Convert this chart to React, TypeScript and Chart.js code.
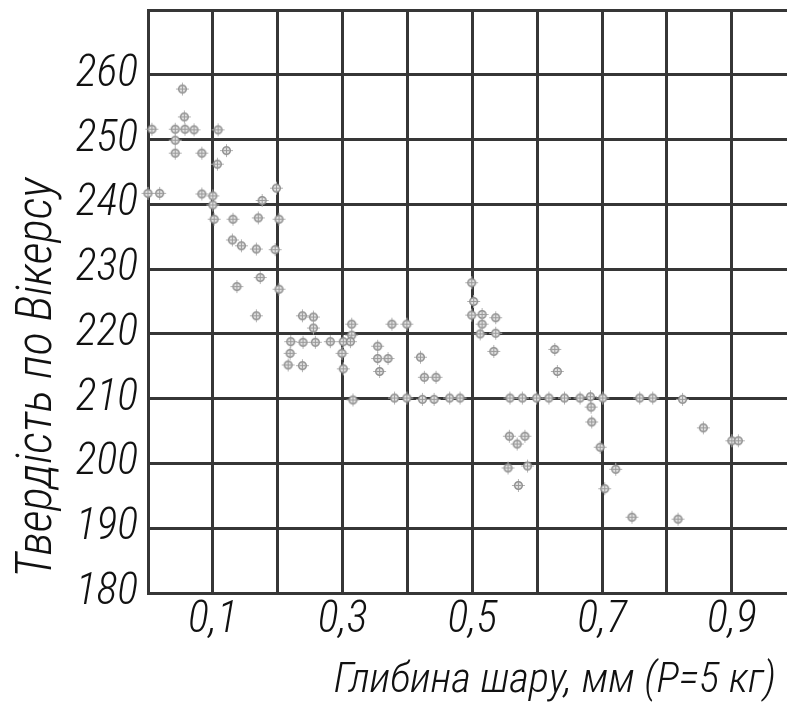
import React, { useEffect, useRef } from "react";
import { Chart, registerables } from "chart.js";

Chart.register(...registerables);

// Глибина шару, мм
const depthMm = [
  0.053, 0.056, 0.006, 0.042, 0.057, 0.071, 0.108, 0.042, 0.042, 0.083,
  0.121, 0.107, 0.0, 0.018, 0.083, 0.1, 0.1, 0.198, 0.176, 0.102,
  0.131, 0.17, 0.202, 0.13, 0.144, 0.167, 0.196, 0.173, 0.137, 0.202,
  0.167, 0.238, 0.255, 0.255, 0.22, 0.239, 0.258, 0.281, 0.219, 0.216,
  0.238, 0.314, 0.314, 0.301, 0.312, 0.299, 0.301, 0.316, 0.376, 0.399,
  0.354, 0.354, 0.37, 0.357, 0.42, 0.426, 0.444,
  0.38, 0.399, 0.423, 0.441, 0.465, 0.481, 0.558, 0.577, 0.599, 0.618,
  0.642, 0.666, 0.682, 0.701, 0.758, 0.778, 0.824,
  0.499, 0.502, 0.499, 0.515, 0.515, 0.536, 0.512, 0.536, 0.533,
  0.627, 0.631, 0.683, 0.684, 0.856, 0.9, 0.91,
  0.557, 0.581, 0.569, 0.697, 0.555, 0.585, 0.571, 0.721, 0.704, 0.746, 0.817,
];

// Твердість по Вікерсу
const hardnessHV = [
  257.8, 253.5, 251.6, 251.6, 251.6, 251.5, 251.5, 249.9, 247.9, 247.9,
  248.3, 246.2, 241.7, 241.7, 241.6, 241.3, 239.9, 242.5, 240.6, 237.7,
  237.7, 237.9, 237.7, 234.5, 233.6, 233.1, 233.0, 228.7, 227.3, 226.9,
  222.8, 222.8, 222.6, 220.9, 218.8, 218.7, 218.7, 218.8, 217.0, 215.2,
  215.1, 221.5, 219.8, 218.8, 218.8, 217.0, 214.6, 209.8, 221.5, 221.5,
  218.1, 216.2, 216.2, 214.2, 216.4, 213.3, 213.3,
  210.1, 210.1, 209.9, 209.9, 210.1, 210.1, 210.1, 210.1, 210.1, 210.1,
  210.1, 210.1, 210.3, 210.1, 210.1, 210.1, 209.9,
  227.9, 225.0, 222.9, 223.0, 221.5, 222.5, 220.0, 220.1, 217.3,
  217.6, 214.2, 208.7, 206.4, 205.5, 203.5, 203.5,
  204.2, 204.2, 203.0, 202.5, 199.3, 199.6, 196.6, 199.1, 196.1, 191.7, 191.4,
];

const X_MIN = 0;
const X_MAX = 0.985;
const X_STEP = 0.1;
const Y_MIN = 180;
const Y_MAX = 270;
const Y_STEP = 10;
const X_LABELED_TENTHS = [1, 3, 5, 7, 9];
const Y_UNLABELED = [270];

const X_TITLE = "Глибина шару, мм (Р=5 кг)";
const Y_TITLE = "Твердість по Вікерсу";

const GRID = "#363636";
const TEXT = "#111111";
const FONT = '"Roboto Condensed", "DejaVu Sans Condensed", sans-serif';

function makeMarker(): HTMLCanvasElement {
  const c = document.createElement("canvas");
  c.width = 15;
  c.height = 15;
  const g = c.getContext("2d")!;
  g.strokeStyle = "#b0b0b0";
  g.lineWidth = 1;
  g.beginPath();
  g.moveTo(7.5, 1);
  g.lineTo(7.5, 14);
  g.moveTo(1, 7.5);
  g.lineTo(14, 7.5);
  g.stroke();
  g.fillStyle = "#e2e2e2";
  g.strokeStyle = "#8c8c8c";
  g.lineWidth = 1.5;
  g.beginPath();
  g.arc(7.5, 7.5, 3.8, 0, Math.PI * 2);
  g.fill();
  g.stroke();
  g.strokeStyle = "#9a9a9a";
  g.lineWidth = 1;
  g.beginPath();
  g.moveTo(7.5, 4.5);
  g.lineTo(7.5, 10.5);
  g.moveTo(4.5, 7.5);
  g.lineTo(10.5, 7.5);
  g.stroke();
  return c;
}

const titlesPlugin = {
  id: "axisTitlesCustom",
  afterDraw(chart: any) {
    const { ctx, chartArea } = chart;
    ctx.save();
    ctx.fillStyle = TEXT;
    ctx.textBaseline = "alphabetic";
    ctx.font = `italic 300 43px ${FONT}`;
    ctx.textAlign = "right";
    ctx.fillText(X_TITLE, chartArea.right - 11, chartArea.bottom + 99);
    ctx.translate(chartArea.left - 97, chartArea.bottom - 15);
    ctx.rotate(-Math.PI / 2);
    ctx.font = `italic 300 49px ${FONT}`;
    ctx.textAlign = "left";
    ctx.fillText(Y_TITLE, 0, 0);
    ctx.restore();
  },
};

export default function App() {
  const ref = useRef<HTMLCanvasElement | null>(null);

  useEffect(() => {
    if (!ref.current) return;
    const marker = makeMarker();
    const points = depthMm.map((x, i) => ({ x, y: hardnessHV[i] }));
    const tickFont = { family: FONT, size: 44, style: "italic" as const, weight: 300 };
    const chart = new Chart(ref.current, {
      type: "scatter",
      data: {
        datasets: [
          {
            data: points,
            pointStyle: marker as any,
            pointRadius: 7,
            pointHoverRadius: 7,
            clip: false as any,
          },
        ],
      },
      plugins: [titlesPlugin],
      options: {
        animation: false,
        responsive: false,
        events: [],
        layout: { autoPadding: false, padding: { top: 10, right: 0, bottom: 0, left: 0 } },
        plugins: {
          legend: { display: false },
          tooltip: { enabled: false },
        },
        scales: {
          x: {
            type: "linear",
            min: X_MIN,
            max: X_MAX,
            grid: { color: GRID, lineWidth: 3, drawTicks: false },
            border: { color: GRID, width: 3 },
            ticks: {
              stepSize: X_STEP,
              includeBounds: false,
              autoSkip: false,
              maxRotation: 0,
              padding: 2,
              color: TEXT,
              font: tickFont,
              callback: (v: any) => {
                const t = Math.round(Number(v) * 10);
                return X_LABELED_TENTHS.includes(t) ? "0," + t : "";
              },
            },
            afterFit: (s: any) => {
              s.height = 109;
              s.paddingLeft = 0;
              s.paddingRight = 0;
            },
          },
          y: {
            type: "linear",
            min: Y_MIN,
            max: Y_MAX,
            grid: { color: GRID, lineWidth: 3, drawTicks: false },
            border: { color: GRID, width: 3 },
            ticks: {
              stepSize: Y_STEP,
              autoSkip: false,
              padding: 10,
              color: TEXT,
              font: tickFont,
              callback: (v: any) => (Y_UNLABELED.includes(Number(v)) ? "" : String(v)),
            },
            afterFit: (s: any) => {
              s.width = 148;
              s.paddingTop = 0;
              s.paddingBottom = 0;
            },
          },
        },
      },
    });
    return () => chart.destroy();
  }, []);

  return (
    <div style={{ position: "absolute", left: 0, top: 0, width: 787, height: 702, overflow: "hidden", background: "#fff" }}>
      <canvas ref={ref} width={787} height={702} style={{ display: "block" }} />
    </div>
  );
}
